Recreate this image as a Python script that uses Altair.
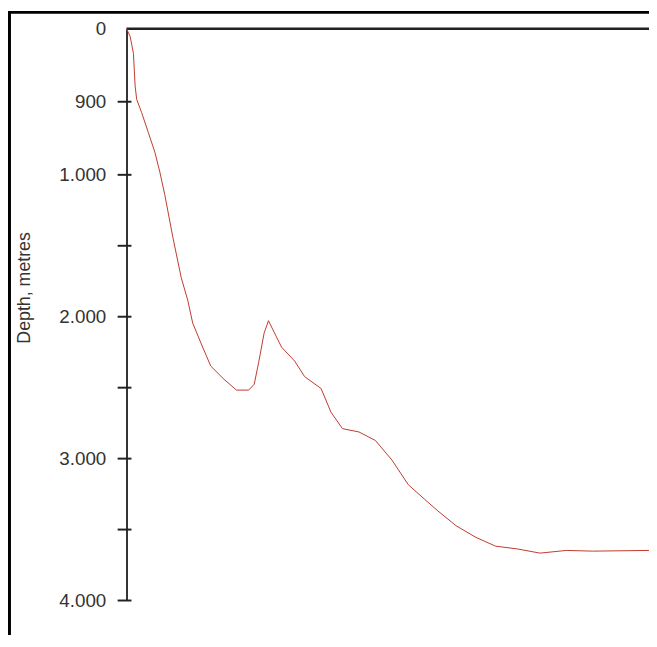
import altair as alt
import pandas as pd

# Bathymetric profile: horizontal position (arbitrary distance units) and depth in metres
distance = [0, 3.7, 7, 8.7, 10.3, 15.3, 22, 28.7, 33.7, 38.7, 47, 55.3, 62, 67, 75.3, 85.3,
            98.7, 111.3, 123.7, 129.3, 133.7, 139.3, 143.7, 157, 170.3, 180.3, 197, 207,
            218.7, 235.3, 252, 268.7, 285.3, 302, 315.3, 333.7, 353.7, 373.7, 395.3,
            418.7, 445.3, 472, 529]
depth = [0, 54, 169, 392, 484, 574, 709, 845, 980, 1139, 1443, 1722, 1884, 2044, 2185, 2348,
         2441, 2517, 2517, 2476, 2325, 2116, 2028, 2215, 2313, 2422, 2506, 2673,
         2789, 2812, 2872, 3010, 3184, 3288, 3369, 3473, 3555, 3617, 3636,
         3666, 3647, 3652, 3647]

tick_values = [500, 1000, 1500, 2000, 2500, 3000, 3500, 4000]
label_values = [0, 500, 1000, 2000, 3000, 4000]
label_texts = ["0", "900", "1.000", "2.000", "3.000", "4.000"]

W, H = 529, 579
PAD = {"left": 120, "top": 17, "right": 0, "bottom": 31}

profile = pd.DataFrame({"dist": distance, "depth": depth})
ticks = pd.DataFrame({"depth": tick_values})
surface = pd.DataFrame({"depth": [0]})
one = pd.DataFrame({"k": [0]})

label_expr = " : ".join(
    [f"datum.value == {v} ? '{t}'" for v, t in zip(label_values, label_texts)]
) + " : ''"

yscale = alt.Scale(domain=[0, 1000, 4000], range=[0, 148, H], nice=False, zero=False)
xscale = alt.Scale(domain=[0, W], nice=False, zero=False)

yaxis = alt.Axis(
    values=label_values,
    labelExpr=label_expr,
    ticks=False,
    grid=False,
    domainColor="#333333",
    domainWidth=2,
    labelPadding=21,
    labelFont="Liberation Sans",
    labelFontSize=19,
    labelColor="#333333",
    labelBaseline="middle",
    title="Depth, metres",
    titleFont="Liberation Sans",
    titleFontSize=18,
    titleFontWeight="normal",
    titleColor="#333333",
    titleX=-94,
    titleY=262,
    titleAngle=-90,
    titleBaseline="bottom",
)

line = alt.Chart(profile).mark_line(color="#c0392b", strokeWidth=1).encode(
    x=alt.X("dist:Q", scale=xscale, axis=None),
    y=alt.Y("depth:Q", scale=yscale, axis=yaxis),
)

tick_marks = alt.Chart(ticks).mark_rule(color="#222222", strokeWidth=2).encode(
    y=alt.Y("depth:Q", scale=yscale, axis=yaxis),
    x=alt.value(-9),
    x2=alt.value(5),
)

surface_line = alt.Chart(surface).mark_rule(color="#222222", strokeWidth=2.5).encode(
    y=alt.Y("depth:Q", scale=yscale, axis=yaxis),
    x=alt.value(0),
    x2=alt.value(W),
)

frame_left = alt.Chart(one).mark_rule(color="#000000", strokeWidth=3).encode(
    x=alt.value(-118.5),
    y=alt.value(-17),
    y2=alt.value(H + 60),
)
frame_top = alt.Chart(one).mark_rule(color="#000000", strokeWidth=3).encode(
    x=alt.value(-120),
    x2=alt.value(W),
    y=alt.value(-16.5),
)

chart = alt.layer(frame_left, frame_top, surface_line, tick_marks, line).properties(
    width=W,
    height=H,
    autosize=alt.AutoSizeParams(type="none"),
    padding=PAD,
).configure(background="white").configure_view(stroke=None)

chart.save("out.html", embed_options={"renderer": "svg", "actions": False})
